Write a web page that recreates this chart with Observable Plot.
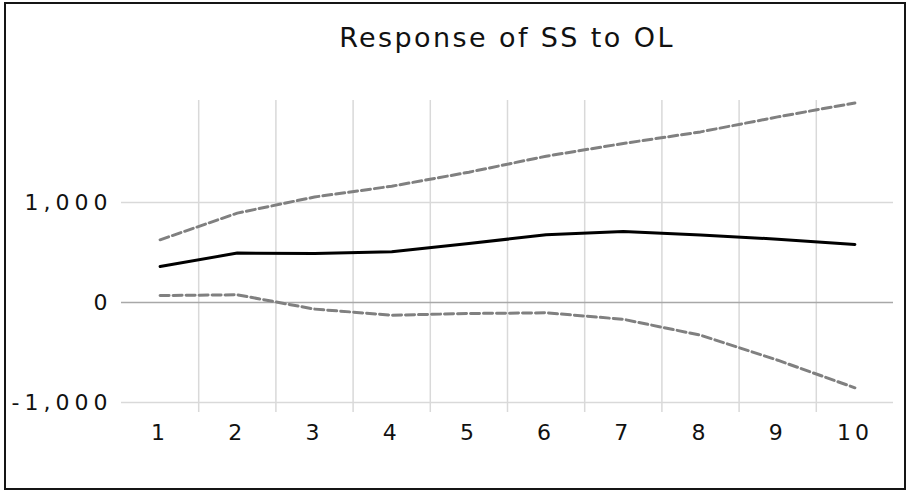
<!DOCTYPE html>
<html>
<head>
<meta charset="utf-8">
<script src="https://cdn.jsdelivr.net/npm/d3@7"></script>
<script src="https://cdn.jsdelivr.net/npm/@observablehq/plot@0.6"></script>
<style>
  html, body { margin: 0; padding: 0; background: #fff; }
  #chart { position: relative; width: 908px; height: 491px; overflow: hidden; background: #fff; }
  #chart svg { position: absolute; left: 0; top: 0; }
  #frame {
    position: absolute; left: 4px; top: 2px; width: 902px; height: 488px;
    box-sizing: border-box; border: 2px solid #151515; pointer-events: none;
  }
  #title {
    position: absolute; left: 121px; width: 772px; top: 24px;
    text-align: center; font-family: "DejaVu Sans", sans-serif; font-size: 27px;
    letter-spacing: 2.4px; color: #111; line-height: 1;
  }
  #chart svg [aria-label="y-axis tick label"] text { letter-spacing: 5px; }
  #chart svg [aria-label="x-axis tick label"] text { letter-spacing: 4px; }
</style>
</head>
<body>
<div id="chart">
  <div id="title">Response of SS to OL</div>
  <div id="frame"></div>
</div>
<script>
// Impulse response of SS to a shock in OL, with ±2 S.E. bands
const periods = [1, 2, 3, 4, 5, 6, 7, 8, 9, 10];
const response = [360, 494, 490, 507, 590, 677, 710, 676, 633, 580];
const upperBand = [627, 894, 1055, 1163, 1303, 1463, 1590, 1706, 1856, 1996];
const lowerBand = [70, 77, -66, -127, -110, -103, -168, -327, -577, -853];
const yTicks = [-1000, 0, 1000];
const xTicks = periods;

// vertical grid lines sit between consecutive periods
const gridX = periods.slice(0, -1).map(p => p + 0.5);

const fmt = d3.formatLocale({decimal: ".", thousands: ",", grouping: [3], currency: ["", ""], minus: "-"}).format(",");

const rows = (values) => periods.map((p, i) => ({period: p, value: values[i]}));

const chart = Plot.plot({
  width: 908,
  height: 491,
  marginLeft: 121,
  marginRight: 15,
  marginTop: 100,
  marginBottom: 79,
  x: {domain: [0.5, 10.5]},
  y: {domain: [-1100, 2020]},
  style: {fontFamily: "DejaVu Sans, sans-serif", fontSize: "22px", background: "transparent", color: "#111"},
  marks: [
    Plot.ruleX(gridX, {stroke: "#d9d9d9", strokeWidth: 1.5}),
    Plot.ruleY([1000, -1000], {stroke: "#d9d9d9", strokeWidth: 1.5}),
    Plot.ruleY([0], {stroke: "#a8a8a8", strokeWidth: 1.5}),
    Plot.line(rows(upperBand), {x: "period", y: "value", stroke: "#808080", strokeWidth: 3, strokeDasharray: "9,4"}),
    Plot.line(rows(lowerBand), {x: "period", y: "value", stroke: "#808080", strokeWidth: 3, strokeDasharray: "9,4"}),
    Plot.line(rows(response), {x: "period", y: "value", stroke: "#000", strokeWidth: 3}),
    Plot.axisY(yTicks, {tickSize: 0, tickPadding: 9, tickFormat: fmt, label: null}),
    Plot.axisX(xTicks, {tickSize: 0, tickPadding: 12, label: null})
  ]
});

document.getElementById("chart").appendChild(chart);
</script>
</body>
</html>
